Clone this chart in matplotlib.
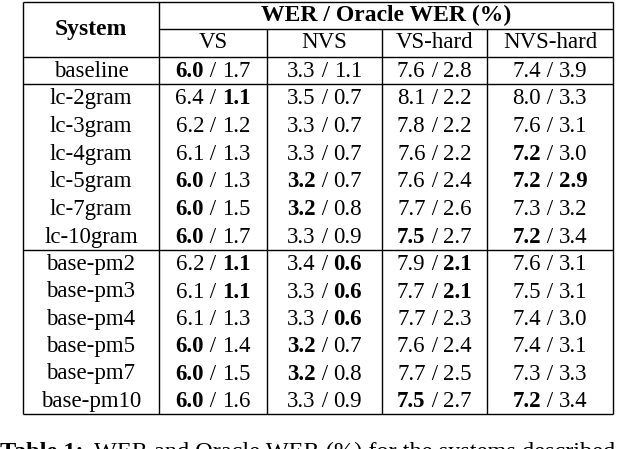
import matplotlib
matplotlib.use("Agg")
import matplotlib.pyplot as plt

systems = ["baseline", "lc-2gram", "lc-3gram", "lc-4gram", "lc-5gram", "lc-7gram", "lc-10gram",
           "base-pm2", "base-pm3", "base-pm4", "base-pm5", "base-pm7", "base-pm10"]
columns = ["VS", "NVS", "VS-hard", "NVS-hard"]
wer = [[6.0, 3.3, 7.6, 7.4], [6.4, 3.5, 8.1, 8.0], [6.2, 3.3, 7.8, 7.6], [6.1, 3.3, 7.6, 7.2],
       [6.0, 3.2, 7.6, 7.2], [6.0, 3.2, 7.7, 7.3], [6.0, 3.3, 7.5, 7.2],
       [6.2, 3.4, 7.9, 7.6], [6.1, 3.3, 7.7, 7.5], [6.1, 3.3, 7.7, 7.4],
       [6.0, 3.2, 7.6, 7.4], [6.0, 3.2, 7.7, 7.3], [6.0, 3.3, 7.5, 7.2]]
oracle = [[1.7, 1.1, 2.8, 3.9], [1.1, 0.7, 2.2, 3.3], [1.2, 0.7, 2.2, 3.1], [1.3, 0.7, 2.2, 3.0],
          [1.3, 0.7, 2.4, 2.9], [1.5, 0.8, 2.6, 3.2], [1.7, 0.9, 2.7, 3.4],
          [1.1, 0.6, 2.1, 3.1], [1.1, 0.6, 2.1, 3.1], [1.3, 0.6, 2.3, 3.0],
          [1.4, 0.7, 2.4, 3.1], [1.5, 0.8, 2.5, 3.3], [1.6, 0.9, 2.7, 3.4]]
# bold flags: "w" = WER bold, "o" = oracle bold
bold = [["w", "", "", ""], ["o", "", "", ""], ["", "", "", ""], ["", "", "", "w"],
        ["w", "w", "", "wo"], ["w", "w", "", ""], ["w", "", "w", "w"],
        ["o", "o", "o", ""], ["o", "o", "o", ""], ["", "o", "", ""],
        ["w", "w", "", ""], ["w", "w", "", ""], ["w", "", "w", "w"]]
caption_label = "Table 1:"
caption_text = "WER and Oracle WER (%) for the systems described"

W, H = 640, 449
fig = plt.figure(figsize=(W / 100, H / 100), dpi=100)
ax = fig.add_axes([0, 0, 1, 1])
ax.set_xlim(0, W)
ax.set_ylim(H, 0)
ax.axis("off")
FONT = "Liberation Serif"
FS = 16.5
lw = 1.0

xb = [23, 159, 267, 382, 487, 613]
lc_end, pm_end = 250, 414
ys = [2, 29, 57, 84]
ys += [84 + (lc_end - 84) * i / 6 for i in range(1, 7)]
ys += [lc_end + (pm_end - lc_end) * i / 6 for i in range(1, 7)]

def hl(y, x0, x1):
    ax.plot([x0, x1], [y, y], color="black", lw=lw, solid_capstyle="butt")

def vl(x, y0, y1):
    ax.plot([x, x], [y0, y1], color="black", lw=lw, solid_capstyle="butt")

hl(2, xb[0], xb[-1]); hl(29, xb[1], xb[-1]); hl(57, xb[0], xb[-1]); hl(84, xb[0], xb[-1])
hl(lc_end, xb[0], xb[-1]); hl(pm_end, xb[0], xb[-1])
vl(xb[0], 2, pm_end); vl(xb[1], 2, pm_end); vl(xb[-1], 2, pm_end)
for x in xb[2:5]:
    vl(x, 29, pm_end)

ax.text((xb[0] + xb[1]) / 2, 30, "System", fontfamily=FONT, fontsize=FS + 0.5, fontweight="bold",
        ha="center", va="center")
ax.text((xb[1] + xb[-1]) / 2, 15, "WER / Oracle WER (%)", fontfamily=FONT, fontsize=FS + 0.5,
        fontweight="bold", ha="center", va="center")
for j, c in enumerate(columns):
    ax.text((xb[j + 1] + xb[j + 2]) / 2, 43, c, fontfamily=FONT, fontsize=FS, ha="center", va="center")

fig.canvas.draw()
r = fig.canvas.get_renderer()

def width(s, weight, fs=FS):
    t = ax.text(0, 0, s, fontfamily=FONT, fontsize=fs, fontweight=weight)
    w = t.get_window_extent(r).width
    t.remove()
    return w

for i, s in enumerate(systems):
    yc = (ys[i + 2] + ys[i + 3]) / 2 + 1
    ax.text((xb[0] + xb[1]) / 2, yc, s, fontfamily=FONT, fontsize=FS, ha="center", va="center")
    for j in range(4):
        parts = [(f"{wer[i][j]:.1f}", "bold" if "w" in bold[i][j] else "normal"),
                 (" / ", "normal"),
                 (f"{oracle[i][j]:.1f}", "bold" if "o" in bold[i][j] else "normal")]
        ws = [width(p, wt) for p, wt in parts]
        x = (xb[j + 1] + xb[j + 2]) / 2 - sum(ws) / 2
        for (p, wt), w in zip(parts, ws):
            ax.text(x, yc, p, fontfamily=FONT, fontsize=FS, fontweight=wt, ha="left", va="center")
            x += w

CFS = 17.5
ax.text(0, 442, caption_label, fontfamily=FONT, fontsize=CFS, fontweight="bold", ha="left", va="top")
ax.text(width(caption_label + " ", "bold", CFS) + 4, 442, caption_text, fontfamily=FONT,
        fontsize=CFS, ha="left", va="top")

fig.savefig("out.png", dpi=100)
